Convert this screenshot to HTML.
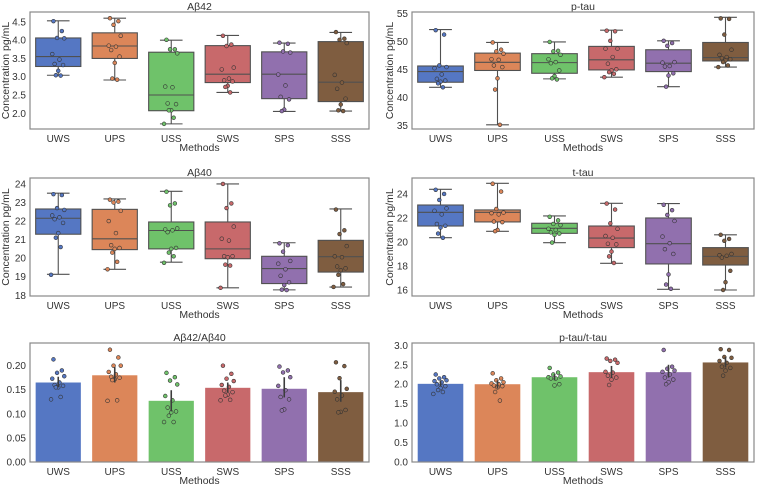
<!DOCTYPE html>
<html><head><meta charset="utf-8">
<style>
html,body{margin:0;padding:0;background:#fff;}
svg{display:block;font-family:"Liberation Sans",sans-serif;}
</style></head>
<body>
<svg id="chart" width="757" height="486" viewBox="0 0 757 486" xmlns="http://www.w3.org/2000/svg"></svg>
<script>
const categories = ["UWS","UPS","USS","SWS","SPS","SSS"];
const colors = ["#5577c3","#dc8659","#6fc26a","#c8696b","#9170ae","#7f5d40"];

// Aβ42 box stats [min,q1,median,q3,max]
const ab42Box = [[3.04,3.28,3.55,4.06,4.53],[2.91,3.5,3.84,4.2,4.6],[1.71,2.07,2.5,3.67,4.0],[2.57,2.84,3.07,3.85,4.13],[2.05,2.4,3.07,3.68,3.92],[2.06,2.32,2.85,3.96,4.21]];
const ab42Pts = [[4.52,4.25,4.06,4.05,3.62,3.47,3.35,3.32,3.16,3.04,3.03],[4.6,4.52,4.42,4.12,3.85,3.82,3.73,3.55,3.38,2.95,2.92],[4.01,3.75,3.75,3.64,2.73,2.71,2.27,2.25,2.08,2.08,1.88,1.71],[4.12,3.88,3.84,3.25,3.2,2.95,2.9,2.87,2.75,2.72,2.57],[3.93,3.9,3.69,3.66,3.06,2.76,2.45,2.38,2.1,2.06],[4.22,4.04,4.01,3.92,3.05,2.84,2.67,2.4,2.24,2.08,2.06]];
const ab42Ticks = [2.0,2.5,3.0,3.5,4.0,4.5];

const ptauBox = [[41.8,42.7,44.6,45.6,52.1],[35.1,44.8,46.25,47.9,49.8],[43.3,44.3,46.2,47.8,49.9],[43.6,44.9,46.7,49.1,52.0],[41.9,44.6,46.1,48.5,50.1],[45.4,46.5,47.1,49.8,54.3]];
const ptauPts = [[52,51.2,45.7,45.4,45.2,44.1,43.3,43,42.8,42.5,41.8],[49.8,48.5,48.2,47.8,46.8,46.7,45.7,45.4,43.4,41.4,35.1],[49.9,48.3,48.2,47.6,46.8,46.3,46.1,44.8,43.8,43.4,43.2],[51.9,51.8,50.1,48.7,48.7,47.2,46,45,44.8,44.5,44.2,43.6],[50.1,49.7,49.2,46.3,46.2,45.6,45.5,44.3,43.9,41.9],[54.1,54,51.2,48.5,47.6,47.2,47,46.8,46.6,46.3,45.7,45.4]];
const ptauTicks = [35,40,45,50,55];

const ab40Box = [[19.13,21.29,22.15,22.65,23.5],[19.4,20.46,21.04,22.63,23.19],[19.78,20.5,21.49,21.95,23.6],[18.4,19.97,20.5,21.95,24.0],[18.29,18.63,19.44,20.1,20.83],[18.44,19.25,20.08,20.96,22.65]];
const ab40Pts = [[23.45,23.4,22.7,22.6,22.3,22.2,22.1,21.9,21.35,21.1,20.6,19.1],[23.15,23.05,23,22.55,22,21.35,20.7,20.55,20.5,20.3,19.8,19.4],[23.58,22.95,22.85,21.6,21.55,21.5,21.4,20.55,20.5,20.3,20.1,19.75],[24,22.95,22.7,21.7,21.05,20.95,20.1,20.1,20.05,19.65,19.6,18.4],[20.8,20.7,20.35,19.85,19.7,19.4,19.05,18.7,18.55,18.3,18.28],[22.62,21.5,21.3,20.65,20.1,20.05,19.55,19.45,19.35,19.1,18.6,18.45]];
const ab40Ticks = [18,19,20,21,22,23,24];

const ttauBox = [[20.36,21.33,22.47,23.08,24.39],[20.89,21.67,22.47,22.67,24.89],[19.94,20.72,21.14,21.56,22.17],[18.22,19.53,20.33,21.33,23.22],[16.06,18.17,19.86,22.0,23.2],[16.0,18.08,18.8,19.53,20.6]];
const ttauPts = [[24.35,24,23.5,22.8,22.6,22.3,21.5,21.35,21.2,20.7,20.35],[24.85,24.2,22.75,22.45,22.4,22.3,21.7,21.65,21,20.9],[22.1,21.8,21.5,21.4,21.1,21,20.8,20.7,20.6,19.95],[23.2,22.7,21.55,21.1,20.5,20.35,19.85,19.8,19.2,18.8,18.25],[23.1,22.65,22.25,21.75,20.45,19.9,19.4,19,17.3,16.45,16.1],[20.6,20.25,20.1,19,18.9,18.85,18.7,17.6,16.65,16]];
const ttauTicks = [16,18,20,22,24];

const ratioABMeans = [0.165,0.180,0.127,0.154,0.152,0.145];
const ratioABCi = [[0.155,0.177],[0.165,0.197],[0.105,0.149],[0.145,0.165],[0.134,0.176],[0.125,0.17]];
const ratioABPts = [[0.213,0.19,0.185,0.178,0.173,0.165,0.16,0.158,0.155,0.155,0.135,0.13],[0.233,0.217,0.2,0.2,0.187,0.182,0.177,0.175,0.172,0.17,0.128,0.127],[0.185,0.176,0.169,0.161,0.137,0.128,0.113,0.105,0.103,0.096,0.083,0.083],[0.2,0.183,0.173,0.168,0.16,0.156,0.148,0.145,0.14,0.138,0.129,0.128],[0.198,0.19,0.186,0.176,0.158,0.149,0.135,0.13,0.109,0.107],[0.207,0.199,0.174,0.152,0.146,0.138,0.13,0.108,0.104,0.103]];
const ratioABTicks = [0.00,0.05,0.10,0.15,0.20];

const ratioTauMeans = [2.01,2.0,2.18,2.31,2.31,2.56];
const ratioTauCi = [[1.94,2.08],[1.89,2.1],[2.1,2.26],[2.17,2.47],[2.17,2.5],[2.43,2.7]];
const ratioTauPts = [[2.25,2.18,2.15,2.1,2.08,2.05,2.0,1.95,1.9,1.85,1.8,1.75],[2.28,2.15,2.1,2.05,2.02,2.0,1.97,1.95,1.92,1.8,1.58],[2.42,2.3,2.25,2.2,2.18,2.15,2.15,2.0,1.97],[2.66,2.63,2.6,2.55,2.32,2.3,2.22,2.17,2.12,1.98],[2.88,2.45,2.4,2.35,2.32,2.25,2.17,2.12,2.05,2.0],[2.9,2.88,2.7,2.68,2.6,2.55,2.45,2.42,2.35,2.22]];
const ratioTauTicks = [0.0,0.5,1.0,1.5,2.0,2.5,3.0];

const NS="http://www.w3.org/2000/svg";
const svg=document.getElementById('chart');
function mk(tag,attrs,parent){const e=document.createElementNS(NS,tag);for(const k in attrs)e.setAttribute(k,attrs[k]);(parent||svg).appendChild(e);return e;}
const jit=[-4,3,-1,5,-5,1,-3,4,0,-2,2,-6,6];

function panel(cfg){
  const g=mk('g',{});
  
  
  const y=v=>cfg.y1-(v-cfg.ymin)/(cfg.ymax-cfg.ymin)*(cfg.y1-cfg.y0);
  const bw=(cfg.x1-cfg.x0)/categories.length;
  const cx=i=>cfg.x0+bw*(i+0.5);
  const ff=cfg.fmt;
  cfg.ticks.forEach(t=>{
    const tl=mk('text',{x:cfg.x0-4,y:y(t)+3.5,'text-anchor':'end','font-size':'10',fill:'#333'},g);
    tl.textContent=ff(t);
    
    
  });
  categories.forEach((c,i)=>{
    const tl=mk('text',{x:cx(i),y:cfg.y1+13,'text-anchor':'middle','font-size':'10',fill:'#333'},g);
    tl.textContent=c;
    
    
  });
  const xt=mk('text',{x:(cfg.x0+cfg.x1)/2,y:cfg.y1+22,'text-anchor':'middle','font-size':'10.5',fill:'#333'},g);
  xt.textContent='Methods';
  
  
  const tt=mk('text',{x:(cfg.x0+cfg.x1)/2,y:cfg.y0-2,'text-anchor':'middle','font-size':'10.5',fill:'#333'},g);
  tt.textContent=cfg.title;
  
  
  if(cfg.ylabel){
    const yx=cfg.ylx, yy=(cfg.y0+cfg.y1)/2;
    const yt=mk('text',{x:yx,y:yy,'text-anchor':'middle','font-size':'10.5',fill:'#333',transform:`rotate(-90 ${yx} ${yy})`},g);
    yt.textContent='Concentration pg/mL';
    
    
  }
  const hw=bw*0.4;
  categories.forEach((c,i)=>{
    const x=cx(i);
    if(cfg.box){
      const [mn,q1,md,q3,mx]=cfg.box[i];
      const st='#505050';
      const w1=mk('line',{x1:x,x2:x,y1:y(q3),y2:y(mx),stroke:st,'stroke-width':1.1},g);
      
      
      const w2=mk('line',{x1:x,x2:x,y1:y(q1),y2:y(mn),stroke:st,'stroke-width':1.1},g);
      
      
      [mn,mx].forEach(v=>{
        const cap=mk('line',{x1:x-hw/2,x2:x+hw/2,y1:y(v),y2:y(v),stroke:st,'stroke-width':1.1},g);
        
        
      });
      const r=mk('rect',{x:x-hw,y:y(q3),width:hw*2,height:y(q1)-y(q3),fill:colors[i],stroke:st,'stroke-width':1.1},g);
      
      
      const m=mk('line',{x1:x-hw,x2:x+hw,y1:y(md),y2:y(md),stroke:st,'stroke-width':1.1},g);
      
      
    } else {
      const r=mk('rect',{x:x-hw,y:y(cfg.means[i]),width:hw*2,height:y(cfg.ymin)-y(cfg.means[i]),fill:colors[i]},g);
      
      
    }
    cfg.pts[i].forEach((v,k)=>{
      const d=mk('circle',{cx:x+jit[k%jit.length]*1.2,cy:y(v),r:1.9,fill:colors[i],stroke:'#333','stroke-width':0.6},g);
      
      
    });
    if(cfg.ci){
      const e=mk('line',{x1:x,x2:x,y1:y(cfg.ci[i][0]),y2:y(cfg.ci[i][1]),stroke:'#3c3c3c','stroke-width':1.6},g);
      
      
    }
  });
  const fr=mk('rect',{x:cfg.x0,y:cfg.y0,width:cfg.x1-cfg.x0,height:cfg.y1-cfg.y0,fill:'none',stroke:'#888','stroke-width':1.2},g);
  
  
}
const f1=t=>t.toFixed(1), f0=t=>t.toFixed(0), f2=t=>t.toFixed(2);
panel({name:'ab42',title:'Aβ42',x0:30,x1:369,y0:12,y1:129,ymin:1.57,ymax:4.77,ticks:ab42Ticks,fmt:f1,box:ab42Box,pts:ab42Pts,ylabel:true,ylx:9});
panel({name:'ptau',title:'p-tau',x0:412,x1:754,y0:12,y1:129,ymin:34.35,ymax:55.24,ticks:ptauTicks,fmt:f0,box:ptauBox,pts:ptauPts,ylabel:true,ylx:393});
panel({name:'ab40',title:'Aβ40',x0:30,x1:369,y0:178,y1:296,ymin:17.96,ymax:24.32,ticks:ab40Ticks,fmt:f0,box:ab40Box,pts:ab40Pts,ylabel:true,ylx:9});
panel({name:'ttau',title:'t-tau',x0:412,x1:754,y0:178,y1:296,ymin:15.5,ymax:25.33,ticks:ttauTicks,fmt:f0,box:ttauBox,pts:ttauPts,ylabel:true,ylx:393});
panel({name:'ab-ratio',title:'Aβ42/Aβ40',x0:30,x1:369,y0:343,y1:462,ymin:0,ymax:0.247,ticks:ratioABTicks,fmt:f2,means:ratioABMeans,ci:ratioABCi,pts:ratioABPts});
panel({name:'tau-ratio',title:'p-tau/t-tau',x0:412,x1:754,y0:343,y1:462,ymin:0,ymax:3.06,ticks:ratioTauTicks,fmt:f1,means:ratioTauMeans,ci:ratioTauCi,pts:ratioTauPts});
</script>
</body></html>
